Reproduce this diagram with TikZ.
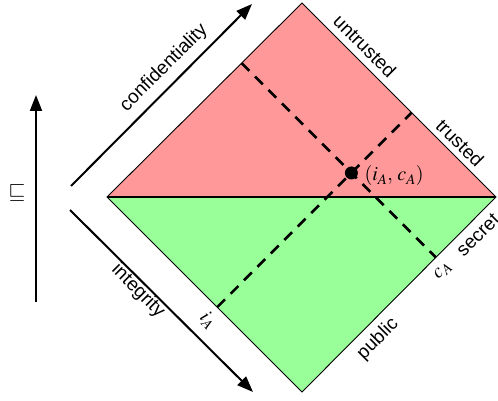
\documentclass[tikz,border=0pt]{standalone}
\usepackage{mathptmx}
\usepackage{fontspec}
\setmainfont{Liberation Sans}
\usetikzlibrary{arrows.meta,calc}
\definecolor{redfill}{RGB}{255,153,153}
\definecolor{greenfill}{RGB}{153,255,153}
\tikzset{
  edgelbl/.style={font=\fontsize{19}{22}\selectfont, inner sep=0pt},
  mathlbl/.style={font=\fontsize{20}{24}\selectfont, inner sep=0pt},
  bigarrow/.style={line width=2pt, -{Triangle[length=16pt,width=12pt]}},
  dashline/.style={line width=2.6pt, dash pattern=on 11pt off 8pt},
}
\begin{document}
\begin{tikzpicture}[x=1pt,y=-1pt]
\useasboundingbox (0,0) rectangle (498,401);
\coordinate (L) at (107,197);
\coordinate (T) at (302,3);
\coordinate (R) at (496,197);
\coordinate (B) at (302,392);
% halves
\fill[redfill] (L) -- (T) -- (R) -- cycle;
\fill[greenfill] (L) -- (B) -- (R) -- cycle;
\draw[line width=0.9pt] (L) -- (T) -- (R) -- (B) -- cycle;
\draw[line width=1.3pt] (L) -- (R);
% dashed lines
\coordinate (cUL) at ($(L)!0.69!(T)$);
\coordinate (cLR) at ($(B)!0.69!(R)$);
\coordinate (iLL) at ($(L)!0.565!(B)$);
\coordinate (iUR) at ($(T)!0.565!(R)$);
\draw[dashline] (cUL) -- (cLR);
\draw[dashline] (iLL) -- (iUR);
\coordinate (P) at (intersection of cUL--cLR and iLL--iUR);
\fill (P) circle (6.5pt);
\node[mathlbl, anchor=west] (plbl) at ($(P)+(13,3)$) {$(i_A,\, c_A)$};
% axis arrows
\coordinate (c0) at (71,186);
\coordinate (c1) at (252,4);
\coordinate (g0) at (70,210);
\coordinate (g1) at (253,392);
\coordinate (v0) at (36,302);
\coordinate (v1) at (36,95);
\draw[bigarrow] (c0) -- (c1);
\draw[bigarrow] (g0) -- (g1);
\draw[bigarrow] (v0) -- (v1);
% labels
\node[edgelbl, rotate=45] (conf) at (164,68) {confidentiality};
\node[edgelbl, rotate=-45] (integ) at (138,291) {integrity};
\node[mathlbl, font=\fontsize{22}{26}\selectfont] (sq) at (17,193) {$\sqsubseteq$};
\node[edgelbl, rotate=-45] (untr) at (365,46) {untrusted};
\node[edgelbl, rotate=-45] (tr) at (460,143) {trusted};
\node[edgelbl, rotate=45] (sec) at (478,235) {secret};
\node[edgelbl, rotate=45] (pub) at (378,339) {public};
\node[mathlbl, rotate=45] (ca) at (443,271) {$c_A$};
\node[mathlbl, rotate=-45] (ia) at (208,320) {$i_A$};
\end{tikzpicture}
\end{document}
